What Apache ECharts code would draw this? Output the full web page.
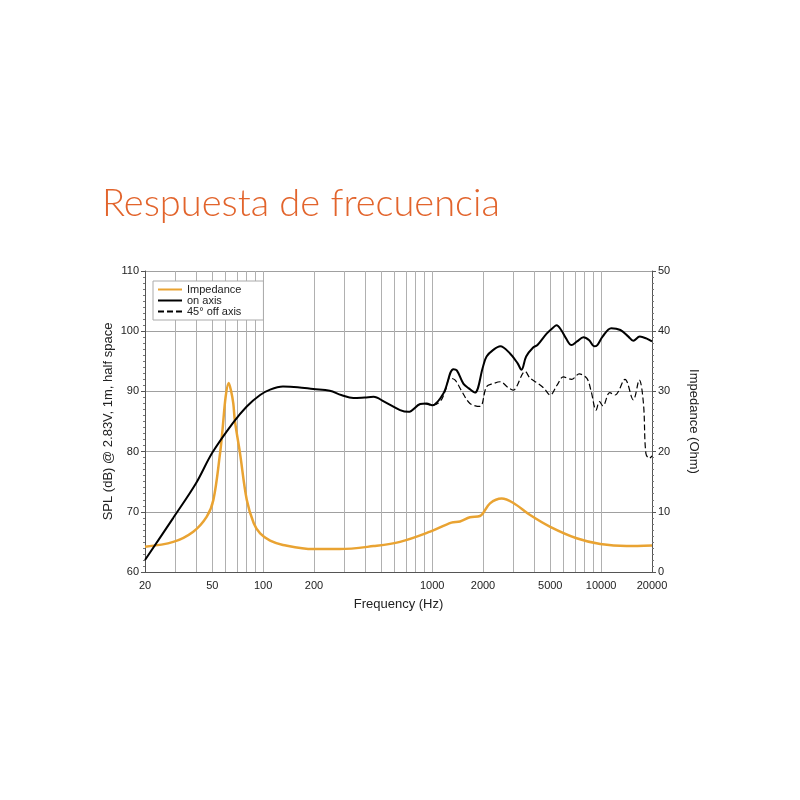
<!DOCTYPE html>
<html lang="es">
<head>
    <meta charset="UTF-8">
    <title>Respuesta de frecuencia</title>
    <script src="https://cdn.jsdelivr.net/npm/echarts@6/dist/echarts.min.js"></script>
    <style>
        html, body { margin: 0; padding: 0; background: #fff; }
        #chart { width: 800px; height: 800px; }
    </style>
</head>
<body>
<div id="chart"></div>
<script>
    // values
    var onAxisFreq = [20, 29.4, 40, 50, 66, 80, 96, 110, 131, 160, 198, 248, 290, 342, 400, 450, 520, 646, 724, 850, 928, 1000, 1168, 1336, 1400, 1530, 1650, 1790, 2000, 2100, 2300, 2530, 2890, 3200, 3380, 3600, 3960, 4200, 4760, 5200, 5450, 5800, 6200, 6680, 7200, 7860, 8500, 9080, 9500, 10200, 11480, 13000, 14500, 15500, 16940, 18500, 20000];
    var onAxisSpl = [62, 69, 74.7, 79.8, 84.7, 87.5, 89.4, 90.3, 90.8, 90.7, 90.4, 90.1, 89.4, 88.9, 89.0, 89.1, 88.3, 86.9, 86.6, 87.9, 88.0, 87.7, 89.7, 93.7, 93.5, 91.3, 90.5, 89.8, 94.1, 95.8, 96.9, 97.5, 96.3, 94.7, 93.6, 95.8, 97.3, 97.7, 99.6, 100.6, 101.0, 100.2, 98.8, 97.7, 98.3, 99.0, 98.5, 97.5, 97.7, 99.1, 100.5, 100.2, 99.1, 98.4, 99.1, 98.8, 98.3];

    var offAxisFreq = [900, 1000, 1114, 1200, 1272, 1364, 1500, 1674, 1918, 2100, 2300, 2530, 2800, 3010, 3550, 3800, 4240, 4600, 5000, 5500, 5980, 6680, 7420, 8220, 8700, 9340, 9780, 10250, 11240, 12080, 13840, 15500, 16820, 17800, 18400, 19300, 20000];
    var offAxisSpl = [88.0, 87.7, 88.3, 90.2, 92.2, 91.9, 90.0, 88.0, 87.5, 90.8, 91.3, 91.6, 90.7, 90.2, 93.3, 92.2, 91.3, 90.5, 89.4, 91.1, 92.4, 92.0, 92.9, 92.2, 90.2, 86.9, 88.3, 87.6, 89.8, 89.4, 92.0, 88.6, 91.9, 88.0, 79.7, 78.9, 79.3];

    var impFreq = [20, 29.4, 38.6, 46.4, 50.8, 55.6, 57.5, 60, 62.5, 64.5, 66.6, 68, 73, 80, 88, 96, 110, 131, 198, 284, 450, 646, 974, 1300, 1462, 1674, 1918, 2200, 2580, 3010, 3780, 5000, 7160, 9880, 14140, 20000];
    var impOhm = [4.2, 5.0, 6.7, 9.2, 12, 19.7, 23.6, 29.1, 31.4, 30.2, 28, 25.2, 19.7, 12, 8.1, 6.4, 5.2, 4.5, 3.8, 3.8, 4.3, 5.0, 6.7, 8.2, 8.4, 9.1, 9.3, 11.4, 12.2, 11.5, 9.5, 7.5, 5.6, 4.65, 4.3, 4.4];

    var freqLabels = [20, 50, 100, 200, 1000, 2000, 5000, 10000, 20000];
    var freqGrid = [20, 30, 40, 50, 60, 70, 80, 90, 100, 200, 300, 400, 500, 600, 700, 800, 900, 1000, 2000, 3000, 4000, 5000, 6000, 7000, 8000, 9000, 10000, 20000];

    function pairs(xs, ys) {
        var out = [];
        for (var i = 0; i < xs.length; i++) out.push([xs[i], ys[i]]);
        return out;
    }

    var font = 'Liberation Sans, Arial, sans-serif';
    var chart = echarts.init(document.getElementById('chart'));
    var option = {
        backgroundColor: '#fff',
        animation: false,
        title: {
            text: 'Respuesta de frecuencia',
            left: 97,
            top: 180,
            textStyle: { color: '#e2642c', fontSize: 38, fontWeight: 300, fontFamily: 'Lato, Open Sans, sans-serif' }
        },
        legend: {
            orient: 'vertical',
            left: 153,
            top: 281,
            itemWidth: 24,
            itemHeight: 11,
            itemGap: 0,
            padding: [3, 22, 3, 4],
            backgroundColor: '#fff',
            borderColor: '#aaa',
            borderWidth: 1,
            borderRadius: 0,
            itemStyle: { opacity: 0 },
            textStyle: { fontSize: 11, color: '#222', fontFamily: font },
            data: ['Impedance', 'on axis', '45° off axis']
        },
        grid: { left: 145, right: 148, top: 271, bottom: 228 },
        xAxis: {
            type: 'log',
            logBase: 10,
            min: 20,
            max: 20000,
            name: 'Frequency (Hz)',
            nameLocation: 'middle',
            nameGap: 26,
            nameTextStyle: { fontSize: 13, color: '#222', fontFamily: font },
            axisLine: { lineStyle: { color: '#555' } },
            axisTick: { show: true, length: 0, customValues: freqGrid },
            axisLabel: {
                customValues: freqLabels,
                fontSize: 11, color: '#222', fontFamily: font, margin: 8,
                formatter: function (v) { return String(Math.round(v)); }
            },
            splitLine: { show: true, lineStyle: { color: '#b0b0b0', width: 1 } }
        },
        yAxis: [{
            type: 'value',
            min: 60,
            max: 110,
            interval: 10,
            name: 'SPL (dB) @ 2.83V, 1m, half space',
            nameLocation: 'middle',
            nameGap: 30,
            nameMoveOverlap: false,
            nameTextStyle: { fontSize: 13, color: '#222', fontFamily: font },
            axisLine: { show: true, lineStyle: { color: '#555' } },
            axisTick: { show: true, length: 4, lineStyle: { color: '#555' } },
            minorTick: { show: true, splitNumber: 10, length: 2, lineStyle: { color: '#777' } },
            axisLabel: { fontSize: 11, color: '#222', fontFamily: font, margin: 6 },
            splitLine: { show: true, lineStyle: { color: '#a0a0a0' } }
        }, {
            type: 'value',
            min: 0,
            max: 50,
            interval: 10,
            position: 'right',
            name: 'Impedance (Ohm)',
            nameLocation: 'middle',
            nameRotate: -90,
            nameGap: 35,
            nameMoveOverlap: false,
            nameTextStyle: { fontSize: 13, color: '#222', fontFamily: font },
            axisLine: { show: true, lineStyle: { color: '#555' } },
            axisTick: { show: true, length: 4, lineStyle: { color: '#555' } },
            minorTick: { show: true, splitNumber: 10, length: 2, lineStyle: { color: '#777' } },
            axisLabel: { fontSize: 11, color: '#222', fontFamily: font, margin: 6 },
            splitLine: { show: false }
        }],
        series: [{
            name: 'Impedance',
            type: 'line',
            yAxisIndex: 1,
            data: pairs(impFreq, impOhm),
            smooth: 0.35,
            symbol: 'none',
            lineStyle: { color: '#e9a332', width: 2.5 },
            itemStyle: { color: '#e9a332' },
            z: 3
        }, {
            name: 'on axis',
            type: 'line',
            data: pairs(onAxisFreq, onAxisSpl),
            smooth: 0.35,
            symbol: 'none',
            lineStyle: { color: '#000', width: 2 },
            itemStyle: { color: '#000' },
            z: 4
        }, {
            name: '45° off axis',
            type: 'line',
            data: pairs(offAxisFreq, offAxisSpl),
            smooth: 0.35,
            symbol: 'none',
            lineStyle: { color: '#000', width: 1.2, type: [6, 3] },
            itemStyle: { color: '#000' },
            z: 3
        }]
    };
    chart.setOption(option);
</script>
</body>
</html>
